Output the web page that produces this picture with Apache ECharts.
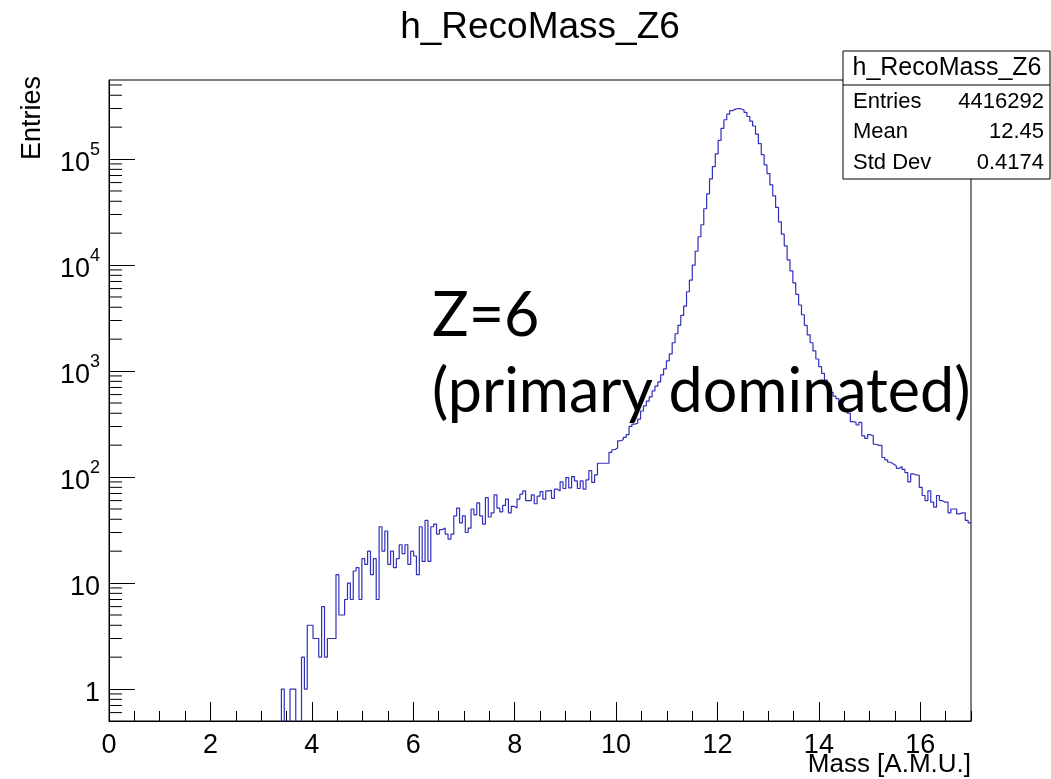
<!DOCTYPE html>
<html><head><meta charset="utf-8">
<script src="https://cdn.jsdelivr.net/npm/echarts@6/dist/echarts.min.js"></script>
<style>html,body{margin:0;padding:0;background:#fff}#c{width:1051px;height:779px}</style>
</head><body><div id="c"></div>
<script>
const histTitle = 'h_RecoMass_Z6';
const xAxisTitle = 'Mass [A.M.U.]';
const yAxisTitle = 'Entries';
const xMin = 0, xMax = 17, nBins = 300;
const firstFilledBin = 60;
// bin contents, bins 60..119
const countsA = [1,0,0,1,1,0,0,2,1,4, 4,3,3,2,6,2,3,3,3,12, 5,5,7,10,7,13,14,7,17,15,
  20,12,17,7,34,20,31,15,20,14, 17,23,19,23,15,20,18,12,34,16, 39,16,34,36,29,32,33,29,26,29];
// bins 120..179
const countsB = [43,51,37,43,30,33,50,44,57,43, 36,64,42,46,68,51,47,54,62,46,
  53,51,62,69,74,60,60,68,56,66, 73,62,74,75,63,77,74,90,78,99,
  79,101,92,78,92,77,94,115,89,105, 135,135,135,135,171,181,188,220,225,237];
// bins 180..239
const countsC = [251,301,316,322,352,420,470,520,570,650, 720,790,920,1050,1250,1450,1850,2250,2700,3350,
  4100,5600,7200,10000,13500,18500,24000,34000,47000,65000,
  85000,112000,150000,195000,235000,265000,286000,296000,300000,297000,
  290000,276000,252000,228000,205000,172000,140000,110000,88000,73000,
  57000,45000,35000,25500,19600,15200,11200,8800,6800,5300];
// bins 240..299
const countsD = [4200,3400,2700,2200,1850,1550,1300,1100,950,820, 720,630,580,550,470,438,429,400,333,328,
  310,328,245,232,251,245,204,199,199,153, 145,138,133,128,121,126,118,110,90,107,
  105,104,80,67,60,74,58,52,67,60, 58,58,46,50,50,45,46,46,39,37];
const statsLabels = ['Entries', 'Mean', 'Std Dev'];
const statsValues = ['4416292', '12.45', '0.4174'];
const annotationLines = ['Z=6', '(primary dominated)'];
const yMin = 0.5, yMax = 5.57e5;
const yDecades = [1, 10, 100, 1000, 10000, 100000];
const yMinorMultipliers = [2, 3, 4, 5, 6, 7, 8, 9];
const yBelowOneTicks = [0.6, 0.7, 0.8, 0.9];

const binWidth = (xMax - xMin) / nBins;
const counts = new Array(nBins).fill(0);
countsA.concat(countsB, countsC, countsD).forEach((v, i) => { counts[firstFilledBin + i] = v; });
const zeroFloor = 0.01; // empty bins drawn below the visible range (log axis)
const stepData = counts.map((v, i) => [xMin + i * binWidth, v > 0 ? v : zeroFloor]);
stepData.push([xMax, counts[nBins - 1] > 0 ? counts[nBins - 1] : zeroFloor]);

const yMinorTicks = yBelowOneTicks.slice();
yDecades.forEach(d => yMinorMultipliers.forEach(m => { if (d * m < yMax) yMinorTicks.push(d * m); }));

const FONT = '"Liberation Sans", Arial, Helvetica, sans-serif';
const chart = echarts.init(document.getElementById('c'), null, {renderer: 'canvas'});

const supLabel = v => {
  const e = Math.round(Math.log10(v));
  if (e === 0) return '{b|1}';
  if (e === 1) return '{b|10}';
  return '{b|10}{s|' + e + '}';
};

chart.setOption({
  animation: false,
  backgroundColor: '#fff',
  grid: {left: 109, right: 80, top: 80, bottom: 58, show: true, borderColor: '#000', borderWidth: 1, containLabel: false},
  xAxis: [{
    type: 'value', min: xMin, max: xMax, interval: 2, position: 'bottom',
    axisLine: {show: true, lineStyle: {color: '#000', width: 1}},
    axisTick: {show: true, inside: true, length: 19, lineStyle: {color: '#000'}},
    axisLabel: {show: true, color: '#000', fontFamily: FONT, fontSize: 27, margin: 11, showMaxLabel: false},
    splitLine: {show: false}
  }, {
    type: 'value', min: xMin, max: xMax, interval: 0.5, position: 'bottom', gridIndex: 0,
    axisLine: {show: false},
    axisTick: {show: true, inside: true, length: 10, lineStyle: {color: '#000'}},
    axisLabel: {show: false}, splitLine: {show: false}
  }],
  yAxis: [{
    type: 'log', logBase: 10, min: yMin, max: yMax, position: 'left',
    axisLine: {show: true, lineStyle: {color: '#000', width: 1}},
    axisTick: {show: true, inside: true, length: 26, lineStyle: {color: '#000'}},
    axisLabel: {
      show: true, color: '#000', margin: 9, showMinLabel: false, showMaxLabel: false,
      formatter: supLabel,
      rich: {
        b: {fontFamily: FONT, fontSize: 27, color: '#000', lineHeight: 36, verticalAlign: 'bottom'},
        s: {fontFamily: FONT, fontSize: 18, color: '#000', lineHeight: 18, verticalAlign: 'top'}
      }
    },
    splitLine: {show: false}
  }],
  series: [{
    type: 'line', xAxisIndex: 0, yAxisIndex: 0, step: 'end', data: stepData,
    showSymbol: false, symbol: 'none', clip: true, z: 3,
    lineStyle: {color: '#3030bb', width: 1.2}
  }, {
    type: 'custom', xAxisIndex: 0, yAxisIndex: 0, silent: true, clip: false, z: 4,
    data: yMinorTicks.map(v => [xMin, v]),
    renderItem: (params, api) => {
      const p = api.coord([api.value(0), api.value(1)]);
      return {type: 'line', shape: {x1: p[0], y1: p[1], x2: p[0] + 13, y2: p[1]}, style: {stroke: '#000', lineWidth: 1}};
    }
  }],
  graphic: [
    {type: 'text', x: 540, y: 28, z: 100, style: {text: histTitle, font: '37px ' + FONT, fill: '#000', align: 'center', verticalAlign: 'middle'}},
    {type: 'text', x: 33, y: 76, rotation: Math.PI / 2, z: 100, style: {text: yAxisTitle, font: '27px ' + FONT, fill: '#000', align: 'right', verticalAlign: 'middle'}},
    {type: 'text', x: 971, y: 765, z: 100, style: {text: xAxisTitle, font: '26px ' + FONT, fill: '#000', align: 'right', verticalAlign: 'middle'}},
    {type: 'rect', z: 100, shape: {x: 843, y: 51, width: 207, height: 128}, style: {fill: '#fff', stroke: '#000', lineWidth: 1}},
    {type: 'line', z: 101, shape: {x1: 843, y1: 85, x2: 1050, y2: 85}, style: {stroke: '#000', lineWidth: 1}},
    {type: 'text', x: 947, y: 68, z: 102, style: {text: histTitle, font: '25px ' + FONT, fill: '#000', align: 'center', verticalAlign: 'middle'}},
    ...statsLabels.map((t, i) => ({type: 'text', x: 853, y: 101.5 + i * 30.5, z: 102, style: {text: t, font: '22px ' + FONT, fill: '#000', align: 'left', verticalAlign: 'middle'}})),
    ...statsValues.map((t, i) => ({type: 'text', x: 1044, y: 101.5 + i * 30.5, z: 102, style: {text: t, font: '22px ' + FONT, fill: '#000', align: 'right', verticalAlign: 'middle'}})),
    {type: 'text', x: 432, y: 316, z: 110, style: {text: annotationLines[0], font: '61px Lato, "Open Sans", sans-serif', fill: '#000', align: 'left', verticalAlign: 'middle'}},
    {type: 'text', x: 432, y: 392, z: 110, style: {text: annotationLines[1], font: '61px Lato, "Open Sans", sans-serif', fill: '#000', align: 'left', verticalAlign: 'middle'}}
  ]
});
</script>
</body></html>
